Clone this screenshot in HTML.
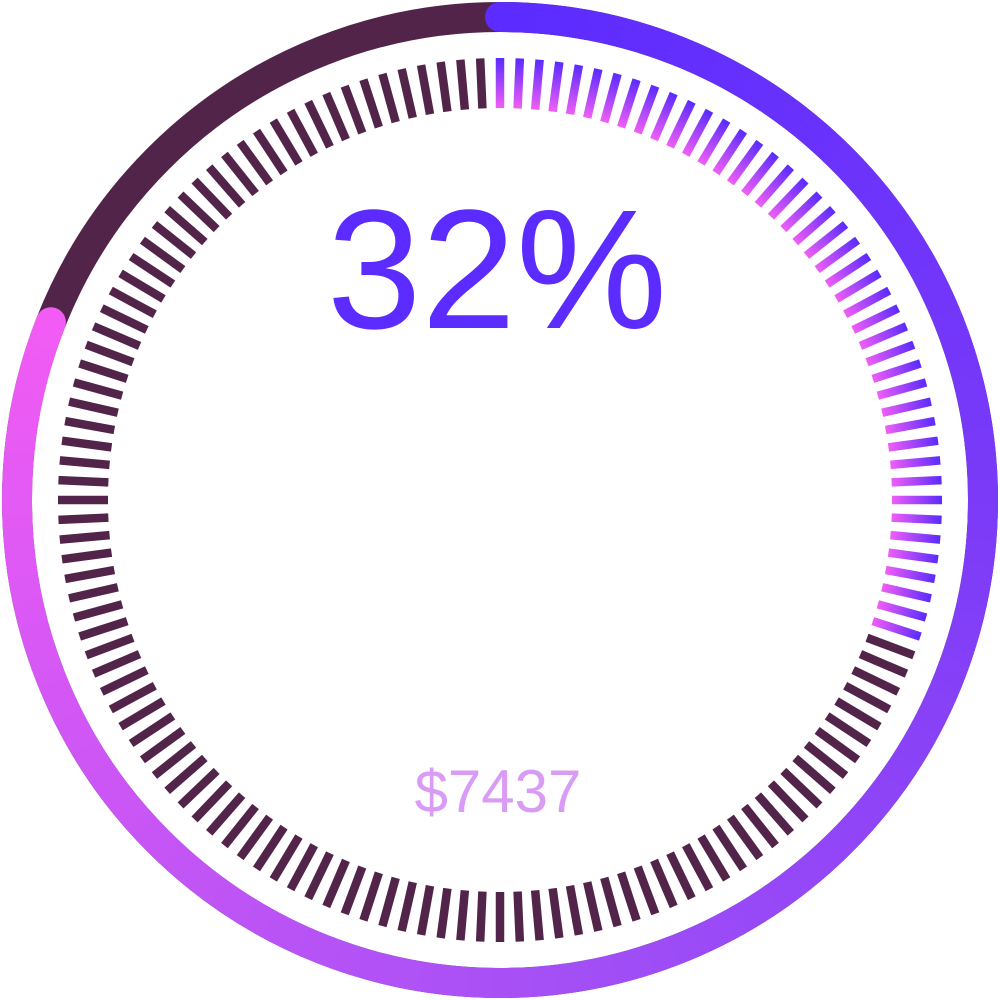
<!DOCTYPE html>
<html><head><meta charset="utf-8"><style>
html,body{margin:0;padding:0;background:#fff;width:1000px;height:1000px;overflow:hidden}
svg{display:block}
</style></head><body>
<svg id="chart" width="1000" height="1000" viewBox="0 0 1000 1000">
<defs>
<linearGradient id="tickGrad" gradientUnits="userSpaceOnUse" x1="0" y1="-442" x2="0" y2="-392">
<stop offset="0" stop-color="#5a2bff"/><stop offset="1" stop-color="#f05ef6"/>
</linearGradient>
</defs>
<circle cx="500" cy="500" r="483" fill="none" stroke="#52244a" stroke-width="30"/>
<g id="arc"></g>
<g id="ticks"></g>
<text x="497" y="328" text-anchor="middle" font-family="Liberation Sans, sans-serif" font-size="170" fill="#5b2bff">32%</text>
<text x="498" y="812" text-anchor="middle" font-family="Liberation Sans, sans-serif" font-size="60" fill="#d99bf5">$7437</text>
</svg>
<script>
const percentValue = [32];
const arcValue = [0.81];
const tickCount = [140];
const ns = 'http://www.w3.org/2000/svg';
const cx = 500, cy = 500;
function pt(angDeg, r){const a=(angDeg-90)*Math.PI/180;return [cx+r*Math.cos(a), cy+r*Math.sin(a)];}
function lerpColor(stops, t){
  for(let i=0;i<stops.length-1;i++){
    if(t<=stops[i+1][0]){
      const u=(t-stops[i][0])/(stops[i+1][0]-stops[i][0]);
      const a=stops[i][1],b=stops[i+1][1];
      return 'rgb('+a.map((v,k)=>Math.round(v+(b[k]-v)*u)).join(',')+')';
    }
  }
  return 'rgb('+stops[stops.length-1][1].join(',')+')';
}
const arcStops=[[0,[91,43,255]],[0.3,[122,58,248]],[0.6,[165,80,246]],[1,[242,92,244]]];
const arcG=document.getElementById('arc');
const endAng=arcValue[0]*360;
const segs=200;
for(let i=0;i<segs;i++){
  const a0=endAng*i/segs, a1=endAng*(i+1)/segs+0.3;
  const p0=pt(a0,483), p1=pt(Math.min(a1,endAng),483);
  const path=document.createElementNS(ns,'path');
  path.setAttribute('d','M'+p0[0]+' '+p0[1]+' A483 483 0 0 1 '+p1[0]+' '+p1[1]);
  path.setAttribute('fill','none');
  path.setAttribute('stroke',lerpColor(arcStops,i/segs));
  path.setAttribute('stroke-width','30');
  
  
  arcG.appendChild(path);
}
[[0,0],[endAng,1]].forEach(([a,t])=>{
  const p=pt(a,483);
  const c=document.createElementNS(ns,'circle');
  c.setAttribute('cx',p[0]);c.setAttribute('cy',p[1]);c.setAttribute('r','15');
  c.setAttribute('fill',lerpColor(arcStops,t));
  
  
  arcG.appendChild(c);
});
const tg=document.getElementById('ticks');
const N=tickCount[0];
const colored=Math.round(N*percentValue[0]/100*0.96);
for(let i=0;i<N;i++){
  const r=document.createElementNS(ns,'rect');
  r.setAttribute('x','-4.25');r.setAttribute('y','-442');
  r.setAttribute('width','8.5');r.setAttribute('height','50');
  r.setAttribute('fill', i<colored ? 'url(#tickGrad)' : '#52244a');
  r.setAttribute('transform','translate(500 500) rotate('+(i*360/N)+')');
  
  
  tg.appendChild(r);
}
</script>
</body></html>
